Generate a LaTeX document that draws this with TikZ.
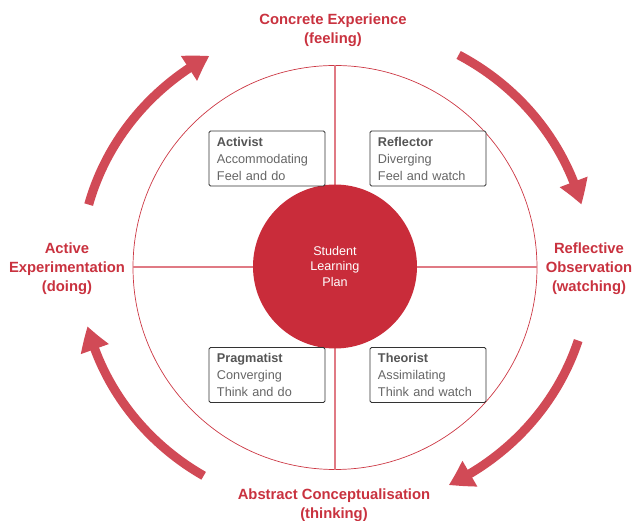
\documentclass[tikz,border=0pt]{standalone}
\usepackage{fontspec}
\setmainfont{Liberation Sans}
\usetikzlibrary{arrows.meta,bending}
\definecolor{cfill}{HTML}{C92C3A}
\definecolor{cline}{HTML}{CC3844}
\definecolor{cquad}{HTML}{E07A84}
\definecolor{carrow}{HTML}{D14A56}
\definecolor{ctext}{HTML}{C9323F}
\definecolor{cbox}{HTML}{333333}
\definecolor{ctitle}{HTML}{555555}
\definecolor{cbody}{HTML}{666666}
\tikzset{
  stagebox/.style={draw=cbox, line width=0.9pt, rounded corners=1.5pt, fill=white,
    minimum width=116pt, minimum height=55pt, text width=100pt, align=left,
    inner xsep=8pt, inner ysep=0pt, text=cbody, font=\fontsize{12.7}{17}\selectfont},
  phase/.style={align=center, text=ctext, font=\bfseries\fontsize{14.8}{19}\selectfont},
  cycarrow/.style={draw=carrow, line width=9pt, -{Triangle[width=28pt,length=24pt,bend]}},
  quadline/.style={fill=cquad},
}
\begin{document}
\begin{tikzpicture}[x=1pt,y=1pt]
\useasboundingbox (-335,-253.5) rectangle (300,267.5);
% outer circle and quadrant lines
\node[circle, draw=cline, line width=0.7pt, minimum size=404pt, inner sep=0pt] (outer) at (0,0) {};
\coordinate (qn) at (-0.8,202.3);
\coordinate (qs) at (0.8,-202.3);
\coordinate (qw) at (-202.3,1.3);
\coordinate (qe) at (202.3,-0.3);
\path[quadline] (qn) rectangle (qs);
\path[quadline] (qw) rectangle (qe);
% centre
\node[circle, fill=cfill, minimum size=164pt, inner sep=0pt, align=center, text=white,
  font=\fontsize{12.6}{15.5}\selectfont] (centre) at (0,1) {Student\\Learning\\Plan};
% boxes
\node[stagebox] (activist) at (-68,109) {\textcolor{ctitle}{\textbf{Activist}}\\Accommodating\\Feel and do};
\node[stagebox] (reflector) at (93,109) {\textcolor{ctitle}{\textbf{Reflector}}\\Diverging\\Feel and watch};
\node[stagebox] (pragmatist) at (-68,-107.5) {\textcolor{ctitle}{\textbf{Pragmatist}}\\Converging\\Think and do};
\node[stagebox] (theorist) at (93,-107.5) {\textcolor{ctitle}{\textbf{Theorist}}\\Assimilating\\Think and watch};
% phase labels
\node[phase] (ce) at (-2,237) {Concrete Experience\\(feeling)};
\node[phase] (ro) at (254,-1.5) {Reflective\\Observation\\(watching)};
\node[phase] (ac) at (-1,-238) {Abstract Conceptualisation\\(thinking)};
\node[phase] (ae) at (-268,-1) {Active\\Experimentation\\(doing)};
% cycle arrows
\coordinate (a1) at (61:255 and 243);
\coordinate (a2) at (-17.5:255 and 243);
\coordinate (a3) at (-121:255 and 243);
\coordinate (a4) at (165:255 and 243);
\draw[cycarrow] (a1) arc[start angle=61, end angle=15, x radius=255, y radius=243];
\draw[cycarrow] (a2) arc[start angle=-17.5, end angle=-63.5, x radius=255, y radius=243];
\draw[cycarrow] (a3) arc[start angle=-121, end angle=-166, x radius=255, y radius=243];
\draw[cycarrow] (a4) arc[start angle=165, end angle=119.5, x radius=255, y radius=243];
\end{tikzpicture}
\end{document}
